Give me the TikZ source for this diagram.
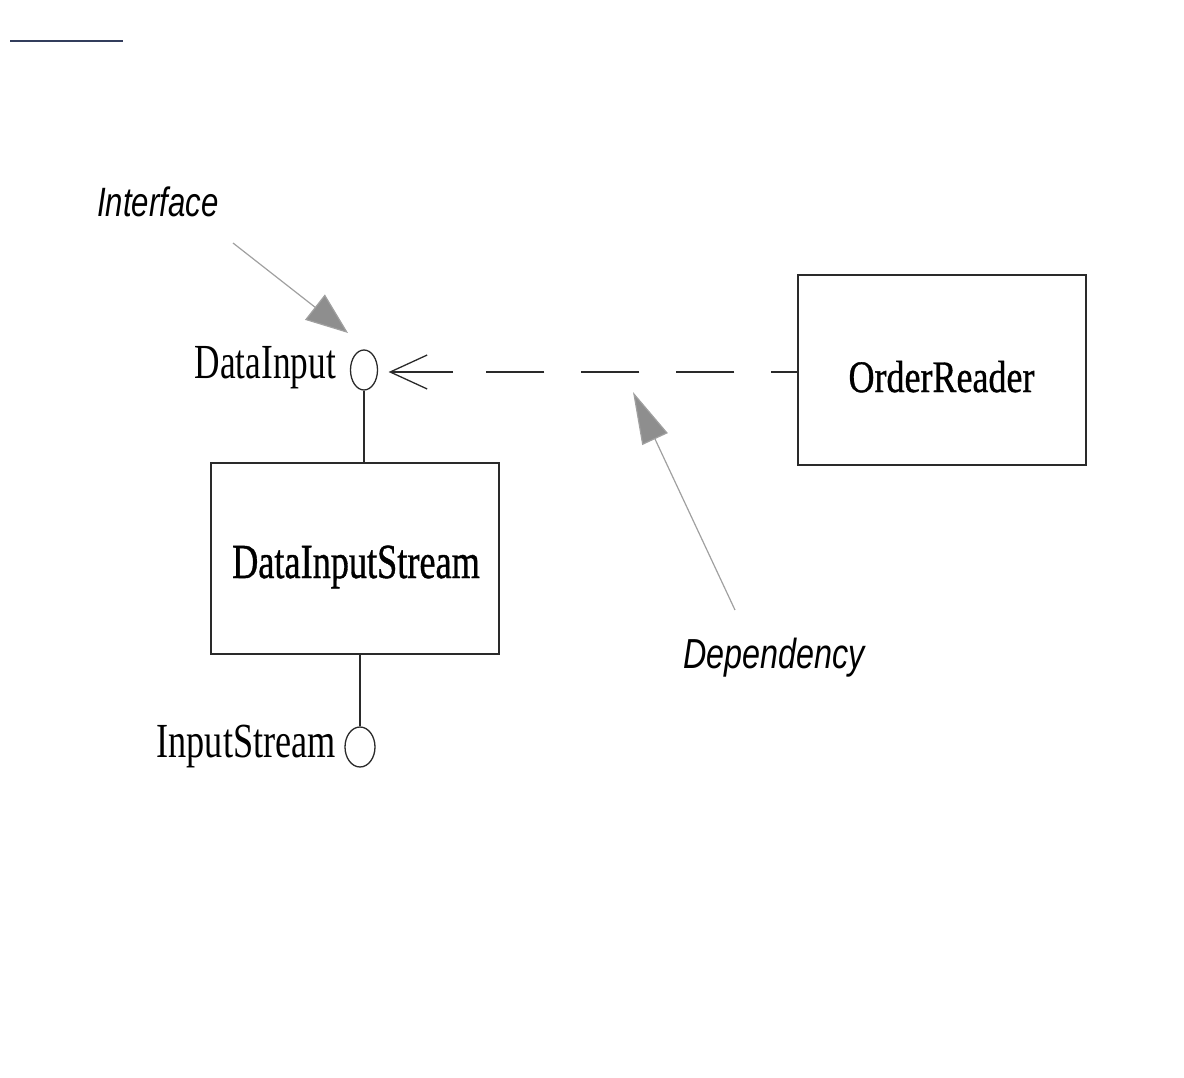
\documentclass[tikz,border=0pt]{standalone}
\usepackage{fontspec}
\usepackage{graphicx}
\setmainfont{Liberation Serif}
\newfontfamily\boxserif[FakeBold=0.9]{Liberation Serif}
\newfontfamily\lsans{Liberation Sans}
\usetikzlibrary{shapes.geometric,arrows.meta}
\definecolor{topline}{HTML}{333D5C}
\definecolor{pointer}{HTML}{A0A0A0}
\definecolor{pointerfill}{HTML}{8E8E8E}
\definecolor{ink}{HTML}{2A2A2A}
\newcommand\sqz[2]{\scalebox{#1}[1]{#2}}
\begin{document}
\begin{tikzpicture}[x=1pt,y=-1pt,
  box/.style={draw=ink,line width=1.5pt,minimum width=288pt,minimum height=190pt,inner sep=0pt},
  iface/.style={draw=ink,line width=1.3pt,ellipse,inner sep=0pt},
  serif/.style={inner sep=0pt,text=black,font=\fontsize{49}{49}\selectfont},
  boxlabel/.style={inner sep=0pt,text=black,font=\boxserif\fontsize{49}{49}\selectfont},
  note/.style={inner sep=0pt,text=black,font=\lsans\itshape\fontsize{41}{41}\selectfont},
  link/.style={ink,line width=1.3pt},
  pointerline/.style={pointer,line width=1.2pt,-{Triangle[fill=pointerfill,#1]}}
]
\path[use as bounding box] (0,0) rectangle (1184,1078);
\draw[topline,line width=1.5pt] (10,41) -- (123,41);

% boxes
\node[box] (ordr) at (942,370) {};
\node[boxlabel,anchor=base] (ordrtext) at (941.5,392) {\fontsize{45}{45}\selectfont\sqz{0.80}{OrderReader}};
\node[box,minimum height=191pt] (dis) at (355,558.5) {};
\node[boxlabel,anchor=base] (distext) at (356,578) {\sqz{0.74}{DataInputStream}};

% interfaces
\node[iface,minimum width=27pt,minimum height=40pt] (di) at (364,370) {};
\node[serif,anchor=base east] (ditext) at (336,378) {\sqz{0.72}{DataInput}};
\node[iface,minimum width=30pt,minimum height=40pt] (is) at (360,747) {};
\node[serif,anchor=base east] (istext) at (336,757) {\sqz{0.74}{InputStream}};

\draw[link] (di.south) -- (di.south |- dis.north);
\draw[link] (is.north) -- (is.north |- dis.south);

% dependency
\coordinate (dstart) at (453,372);
\draw[link,dash pattern=on 58pt off 37pt,dash phase=32pt] (ordr.west |- dstart) -- (dstart);
\draw[link,line join=miter,shorten >=10.5pt,-{Straight Barb[length=37pt,width=34pt]}] (dstart) -- (di.east |- dstart);

% annotations
\node[note,anchor=base west] (iflabel) at (97,217) {\sqz{0.76}{Interface}};
\coordinate (ifs) at (233,243);
\coordinate (ift) at (348,333);
\draw[pointerline={length=42pt,width=32pt}] (ifs) -- (ift);

\node[note,anchor=base west,font=\lsans\itshape\fontsize{42}{42}\selectfont] (deplabel) at (683,668) {\sqz{0.77}{Dependency}};
\coordinate (dps) at (735,610);
\coordinate (dpt) at (633,392);
\draw[pointerline={length=52pt,width=28pt}] (dps) -- (dpt);
\end{tikzpicture}
\end{document}
